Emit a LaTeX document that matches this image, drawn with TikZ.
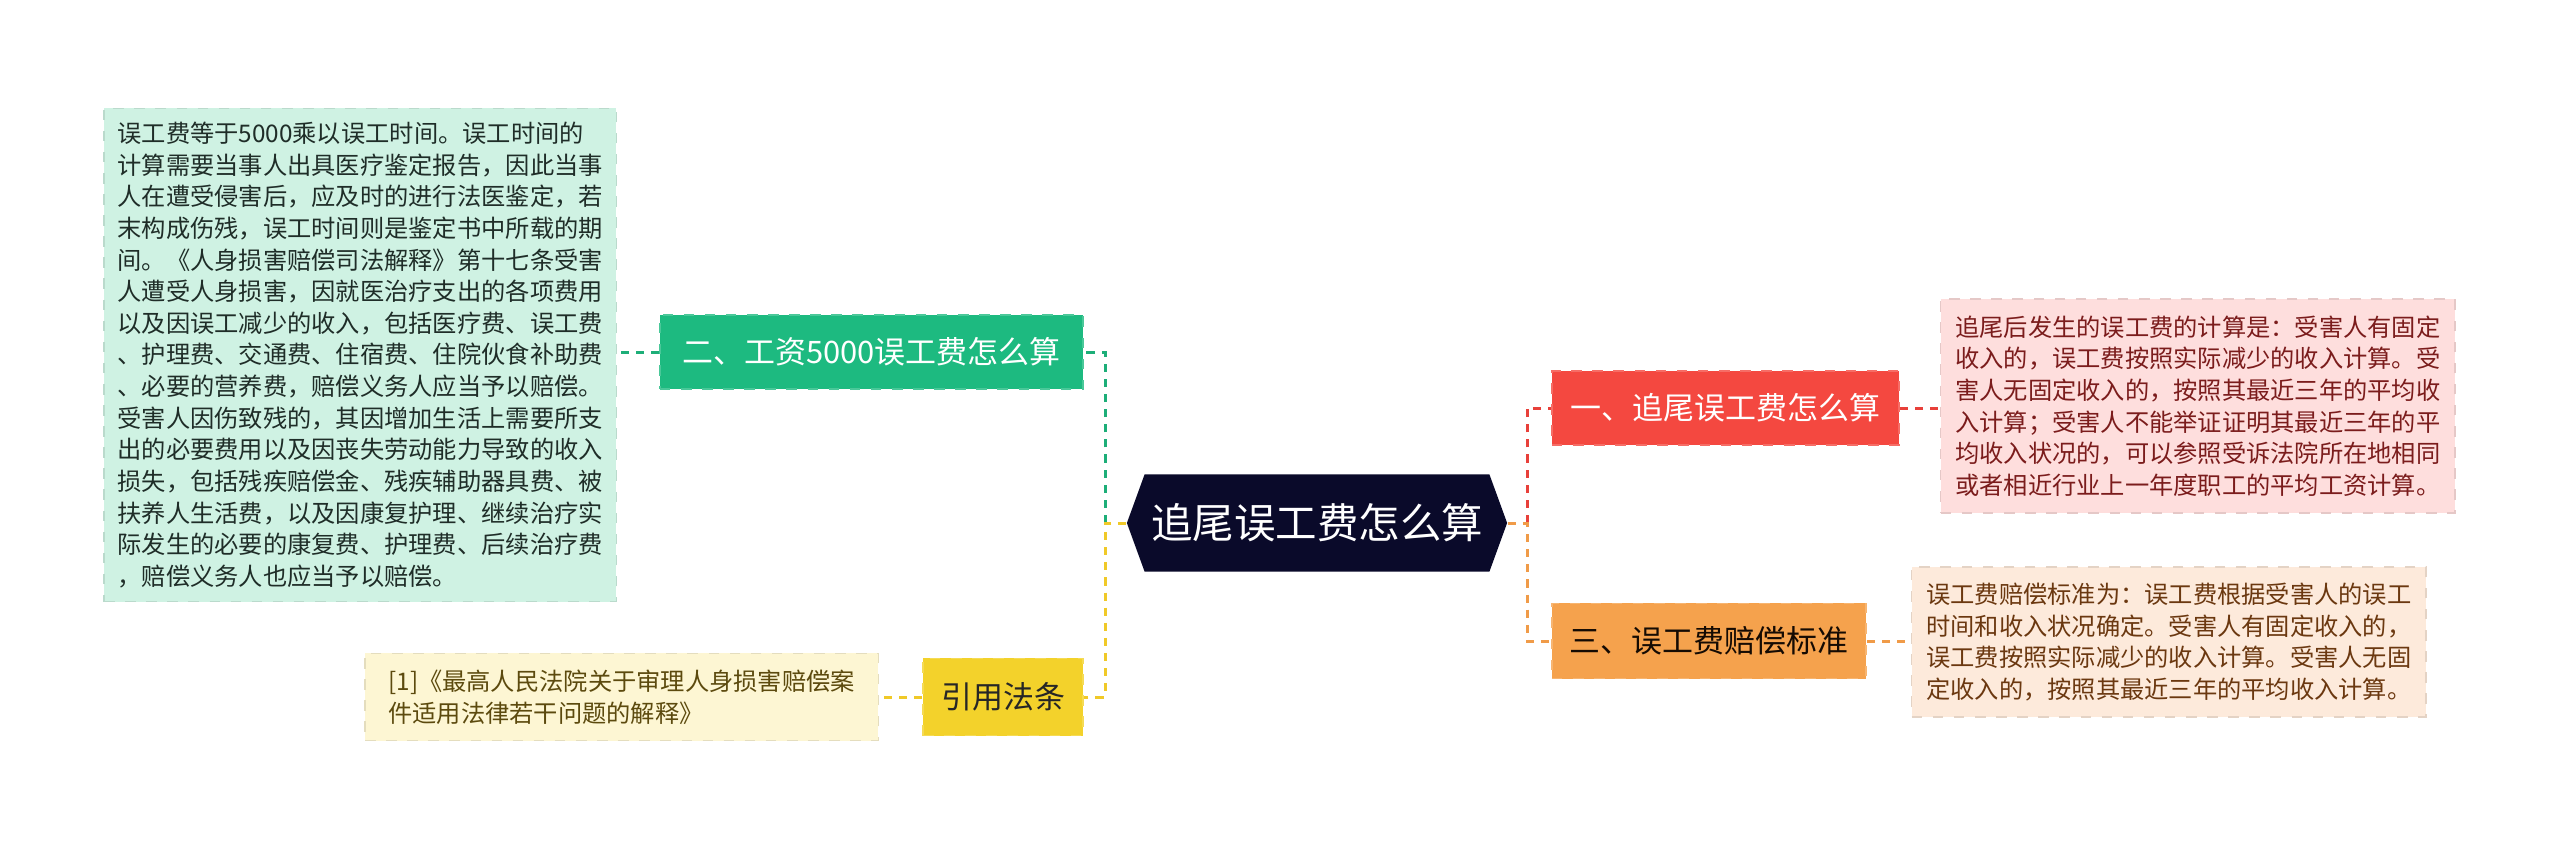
\documentclass[tikz,border=0pt]{standalone}
\usepackage{fontspec}
\usepackage{tikz}
\usetikzlibrary{shapes.symbols}
\newfontfamily\cjk{Noto Sans CJK SC}
\definecolor{rootfill}{HTML}{0A0A2A}
\definecolor{greentopic}{HTML}{1DBA80}
\definecolor{greennote}{HTML}{CFF2E3}
\definecolor{greenline}{HTML}{1DAE78}
\definecolor{greenink}{HTML}{1F2D28}
\definecolor{yellowtopic}{HTML}{F3D22B}
\definecolor{yellownote}{HTML}{FDF6D3}
\definecolor{yellowline}{HTML}{F0C928}
\definecolor{yellowink}{HTML}{5C4A0E}
\definecolor{redtopic}{HTML}{F44840}
\definecolor{rednote}{HTML}{FEDEDD}
\definecolor{redline}{HTML}{E8403A}
\definecolor{redink}{HTML}{7B1C1C}
\definecolor{orangetopic}{HTML}{F5A24D}
\definecolor{orangenote}{HTML}{FDEADB}
\definecolor{orangeline}{HTML}{F09B48}
\definecolor{orangeink}{HTML}{6B3810}

\begin{document}
\begin{tikzpicture}[x=0.01cm, y=-0.01cm, root/.style={signal, signal to=east and west, signal pointer angle=140, fill=rootfill, text=white, minimum width=3.8cm, minimum height=0.97cm, inner sep=0pt, font=\cjk\fontsize{11.8}{14}\selectfont}, topic/.style={draw=#1!80!white, fill=#1, dashed, line width=0.5pt, minimum height=0.74cm, inner sep=0pt, font=\cjk\fontsize{8.8}{10}\selectfont}, note/.style={draw=#1!90!black, fill=#1, dashed, line width=0.4pt, align=left, inner sep=0pt, font=\cjk\fontsize{6.9}{9.0}\selectfont}, link/.style={draw=#1, line width=0.85pt, dash pattern=on 2.3pt off 2pt}]
\fill[white] (0,0) rectangle (2560,845);
\useasboundingbox (0,0) rectangle (2560,845);
\node[root] (root) at (1317,523) {追尾误工费怎么算};
\node[topic=greentopic, text=white, anchor=east, minimum width=4.23cm] (wage) at (1084,352) {二、工资5000误工费怎么算};
\node[topic=yellowtopic, text=black!85, anchor=east, minimum width=1.6cm, minimum height=0.77cm] (cite) at (1084,697) {引用法条};
\node[topic=redtopic, text=white, anchor=west, minimum width=3.47cm] (calc) at (1551,408) {一、追尾误工费怎么算};
\node[topic=orangetopic, text=black!80!orangeink, anchor=west, minimum width=3.14cm, minimum height=0.75cm] (std) at (1551,641) {三、误工费赔偿标准};
\node[note=greennote, text=greenink, anchor=east, minimum width=5.12cm, minimum height=4.93cm] (wagetext) at (617,355) {误工费等于5000乘以误工时间。误工时间的\\计算需要当事人出具医疗鉴定报告，因此当事\\人在遭受侵害后，应及时的进行法医鉴定，若\\末构成伤残，误工时间则是鉴定书中所载的期\\间。《人身损害赔偿司法解释》第十七条受害\\人遭受人身损害，因就医治疗支出的各项费用\\以及因误工减少的收入，包括医疗费、误工费\\、护理费、交通费、住宿费、住院伙食补助费\\、必要的营养费，赔偿义务人应当予以赔偿。\\受害人因伤致残的，其因增加生活上需要所支\\出的必要费用以及因丧失劳动能力导致的收入\\损失，包括残疾赔偿金、残疾辅助器具费、被\\扶养人生活费，以及因康复护理、继续治疗实\\际发生的必要的康复费、护理费、后续治疗费\\，赔偿义务人也应当予以赔偿。};
\node[note=yellownote, text=yellowink, anchor=east, minimum width=5.13cm, minimum height=0.87cm] (citetext) at (879,697) {[1]《最高人民法院关于审理人身损害赔偿案\\件适用法律若干问题的解释》};
\node[note=rednote, text=redink, anchor=west, minimum width=5.14cm, minimum height=2.14cm] (calctext) at (1940,406) {追尾后发生的误工费的计算是：受害人有固定\\收入的，误工费按照实际减少的收入计算。受\\害人无固定收入的，按照其最近三年的平均收\\入计算；受害人不能举证证明其最近三年的平\\均收入状况的，可以参照受诉法院所在地相同\\或者相近行业上一年度职工的平均工资计算。};
\node[note=orangenote, text=orangeink, anchor=west, minimum width=5.14cm, minimum height=1.5cm] (stdtext) at (1911,642) {误工费赔偿标准为：误工费根据受害人的误工\\时间和收入状况确定。受害人有固定收入的，\\误工费按照实际减少的收入计算。受害人无固\\定收入的，按照其最近三年的平均收入计算。};
\coordinate (lj) at (1105,523);
\coordinate (rj) at (1527,523);
\draw[link=greenline] (lj) |- (wage.east);
\draw[link=yellowline] (root.west) -- (lj) |- (cite.east);
\draw[link=redline] (rj) |- (calc.west);
\draw[link=orangeline] (root.east) -- (rj) |- (std.west);
\draw[link=greenline] (wage.west) -- (wagetext.east |- wage.west);
\draw[link=yellowline] (cite.west) -- (citetext.east |- cite.west);
\draw[link=redline] (calc.east) -- (calctext.west |- calc.east);
\draw[link=orangeline] (std.east) -- (stdtext.west |- std.east);
\end{tikzpicture}
\end{document}
